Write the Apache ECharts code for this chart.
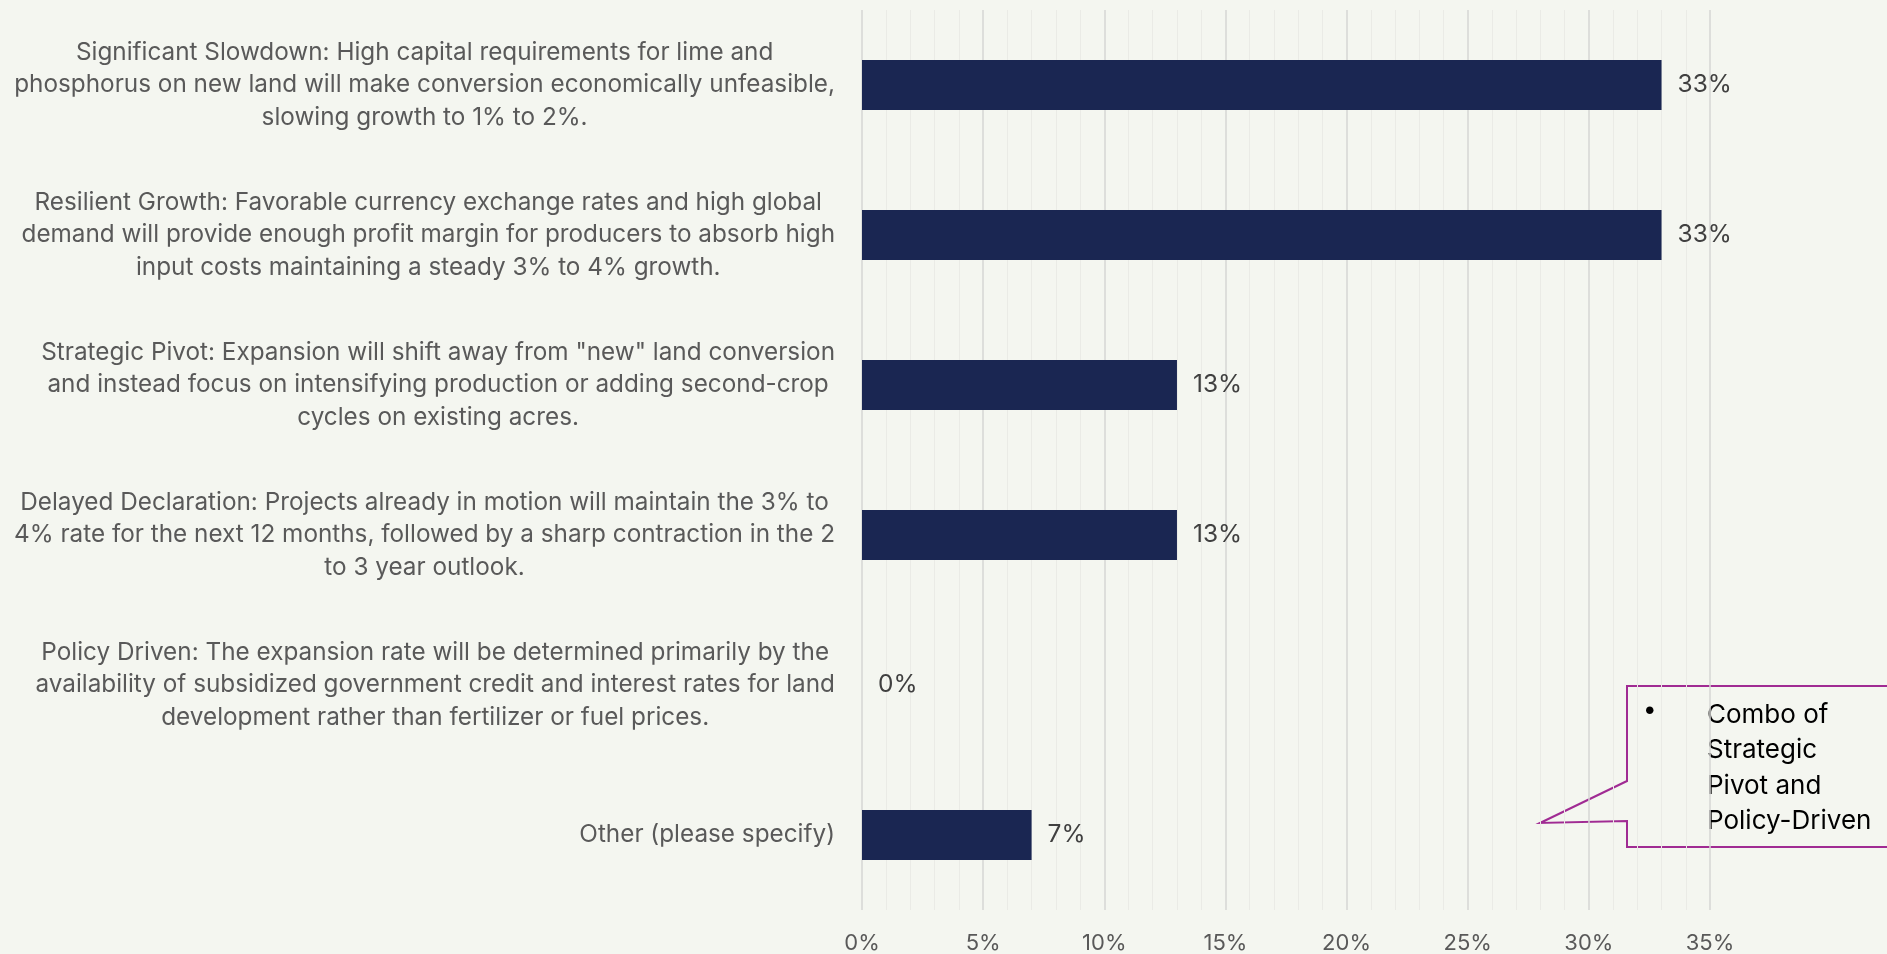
<!DOCTYPE html>
<html>
<head>
<meta charset="utf-8">
<title>Expansion outlook</title>
<script src="https://cdn.jsdelivr.net/npm/echarts@6/dist/echarts.min.js"></script>
<style>
  html, body { margin: 0; padding: 0; background: #f4f6f0; }
  #chart { width: 1887px; height: 954px; }
</style>
</head>
<body>
<div id="chart"></div>
<script>
// answer options, line breaks as they appear in the picture
const categories = [
  'Significant Slowdown: High capital requirements for lime and\nphosphorus on new land will make conversion economically unfeasible,\nslowing growth to 1% to 2%.',
  'Resilient Growth: Favorable currency exchange rates and high global\ndemand will provide enough profit margin for producers to absorb high\ninput costs maintaining a steady 3% to 4% growth.',
  'Strategic Pivot: Expansion will shift away from "new" land conversion\nand instead focus on intensifying production or adding second-crop\ncycles on existing acres.',
  'Delayed Declaration: Projects already in motion will maintain the 3% to\n4% rate for the next 12 months, followed by a sharp contraction in the 2\nto 3 year outlook.',
  'Policy Driven: The expansion rate will be determined primarily by the\navailability of subsidized government credit and interest rates for land\ndevelopment rather than fertilizer or fuel prices.',
  'Other (please specify)'
];
const shares = [33, 33, 13, 13, 0, 7];
const axisMax = 35;
const axisStep = 5;
const calloutLines = ['Combo of', 'Strategic', 'Pivot and', 'Policy-Driven'];

const FONT = 'Inter, "Liberation Sans", sans-serif';

const chart = echarts.init(document.getElementById('chart'));

const option = {
  backgroundColor: '#f4f6f0',
  animation: false,
  grid: { left: 862, right: 177, top: 10, bottom: 44, containLabel: false },
  xAxis: {
    type: 'value',
    min: 0,
    max: axisMax,
    interval: axisStep,
    axisLine: { show: false },
    axisTick: { show: false },
    axisLabel: {
      formatter: '{value}%',
      color: '#595959',
      fontFamily: FONT,
      fontSize: 22,
      margin: 22
    },
    splitLine: { show: true, lineStyle: { color: '#d6d6d4', width: 1.5 } },
    minorTick: { show: false, splitNumber: 5 },
    minorSplitLine: { show: true, lineStyle: { color: '#eaebe6', width: 1 } }
  },
  yAxis: {
    type: 'category',
    inverse: true,
    data: categories,
    axisLine: { show: false },
    axisTick: { show: false },
    axisLabel: {
      margin: 27,
      // centre every line of a label inside its block
      formatter: (v) => v.split('\n').map(l => '{c|' + l + '}').join('\n'),
      rich: {
        c: {
          align: 'center',
          color: '#595959',
          fontFamily: FONT,
          fontSize: 24.3,
          lineHeight: 32.5
        }
      }
    }
  },
  series: [{
    type: 'bar',
    data: shares,
    barWidth: 50,
    itemStyle: { color: '#1a2652' },
    label: {
      show: true,
      position: 'right',
      distance: 16,
      formatter: '{c}%',
      color: '#404040',
      fontFamily: FONT,
      fontSize: 24.5
    }
  }],
  graphic: [
    {
      type: 'polygon',
      silent: true,
      shape: {
        points: [[1627, 686], [1895, 686], [1895, 847], [1627, 847],
                 [1627, 821], [1540, 823], [1627, 781]]
      },
      style: { fill: 'none', stroke: '#a02b93', lineWidth: 2 }
    },
    {
      type: 'text',
      silent: true,
      left: 1643,
      top: 698,
      style: { text: '•', fill: '#000', font: '24px ' + FONT }
    },
    {
      type: 'text',
      silent: true,
      left: 1707,
      top: 697,
      style: {
        text: calloutLines.join('\n'),
        fill: '#000',
        fontFamily: FONT,
        fontSize: 26,
        lineHeight: 35.5
      }
    }
  ]
};

chart.setOption(option);
</script>
</body>
</html>
